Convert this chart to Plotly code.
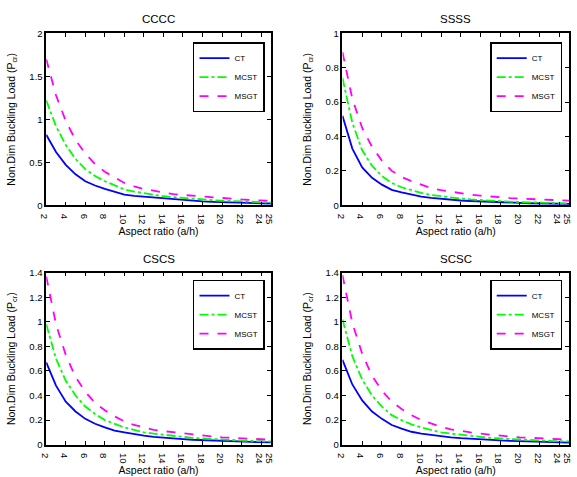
import plotly.graph_objects as go

x = list(range(2, 26))

titles = ["CCCC", "SSSS", "CSCS", "SCSC"]
series_names = ["CT", "MCST", "MSGT"]

cccc_ct = [0.82, 0.62, 0.47, 0.36, 0.28, 0.23, 0.19, 0.16, 0.125, 0.11, 0.10, 0.09, 0.08, 0.07, 0.06, 0.052, 0.046, 0.041, 0.036, 0.032, 0.029, 0.026, 0.023, 0.021]
cccc_mcst = [1.22, 0.92, 0.70, 0.54, 0.42, 0.34, 0.28, 0.23, 0.185, 0.16, 0.14, 0.12, 0.105, 0.095, 0.085, 0.075, 0.067, 0.06, 0.054, 0.049, 0.044, 0.04, 0.036, 0.033]
cccc_msgt = [1.70, 1.28, 0.98, 0.76, 0.60, 0.48, 0.39, 0.32, 0.26, 0.22, 0.19, 0.17, 0.15, 0.13, 0.12, 0.11, 0.10, 0.09, 0.082, 0.075, 0.068, 0.062, 0.057, 0.052]

ssss_ct = [0.52, 0.33, 0.22, 0.16, 0.12, 0.09, 0.075, 0.062, 0.05, 0.043, 0.037, 0.032, 0.028, 0.025, 0.022, 0.02, 0.018, 0.016, 0.014, 0.012, 0.011, 0.01, 0.009, 0.008]
ssss_mcst = [0.74, 0.48, 0.32, 0.23, 0.17, 0.13, 0.105, 0.087, 0.072, 0.06, 0.052, 0.045, 0.039, 0.034, 0.03, 0.027, 0.024, 0.021, 0.019, 0.017, 0.015, 0.014, 0.012, 0.011]
ssss_msgt = [0.89, 0.62, 0.45, 0.34, 0.26, 0.20, 0.165, 0.14, 0.12, 0.10, 0.088, 0.078, 0.068, 0.062, 0.056, 0.05, 0.046, 0.042, 0.039, 0.036, 0.033, 0.031, 0.029, 0.027]

cscs_ct = [0.67, 0.48, 0.35, 0.27, 0.21, 0.17, 0.14, 0.115, 0.10, 0.085, 0.073, 0.064, 0.056, 0.05, 0.045, 0.04, 0.036, 0.032, 0.029, 0.026, 0.024, 0.022, 0.02, 0.018]
cscs_mcst = [0.98, 0.70, 0.52, 0.40, 0.31, 0.25, 0.20, 0.17, 0.14, 0.12, 0.10, 0.09, 0.08, 0.07, 0.062, 0.055, 0.05, 0.045, 0.04, 0.036, 0.033, 0.03, 0.028, 0.026]
cscs_msgt = [1.37, 0.98, 0.73, 0.55, 0.43, 0.34, 0.28, 0.23, 0.19, 0.16, 0.14, 0.12, 0.11, 0.10, 0.09, 0.08, 0.072, 0.066, 0.06, 0.055, 0.05, 0.047, 0.044, 0.041]

scsc_ct = [0.69, 0.49, 0.36, 0.27, 0.21, 0.16, 0.13, 0.105, 0.09, 0.078, 0.068, 0.06, 0.053, 0.047, 0.042, 0.038, 0.034, 0.031, 0.028, 0.025, 0.023, 0.021, 0.019, 0.017]
scsc_mcst = [1.02, 0.72, 0.53, 0.40, 0.31, 0.24, 0.20, 0.165, 0.14, 0.12, 0.10, 0.09, 0.08, 0.07, 0.062, 0.055, 0.05, 0.045, 0.041, 0.037, 0.034, 0.031, 0.028, 0.026]
scsc_msgt = [1.38, 0.99, 0.74, 0.56, 0.44, 0.35, 0.29, 0.24, 0.20, 0.17, 0.145, 0.125, 0.11, 0.10, 0.09, 0.08, 0.073, 0.066, 0.06, 0.055, 0.05, 0.047, 0.044, 0.041]

data = [
    [cccc_ct, cccc_mcst, cccc_msgt],
    [ssss_ct, ssss_mcst, ssss_msgt],
    [cscs_ct, cscs_mcst, cscs_msgt],
    [scsc_ct, scsc_mcst, scsc_msgt],
]

x_ticks = [2, 4, 6, 8, 10, 12, 14, 16, 18, 20, 22, 24, 25]
y_ticks = [
    [0, 0.5, 1, 1.5, 2],
    [0, 0.2, 0.4, 0.6, 0.8, 1],
    [0, 0.2, 0.4, 0.6, 0.8, 1, 1.2, 1.4],
    [0, 0.2, 0.4, 0.6, 0.8, 1, 1.2, 1.4],
]
y_max = [2, 1, 1.4, 1.4]

W, H = 577, 477
# panel pixel boxes (left, right, top, bottom)
boxes = [(40, 269, 28, 204), (342, 573, 28, 204), (40, 269, 273, 449), (342, 573, 273, 449)]
legend_pos = [(263, 37), (566, 37), (263, 280), (566, 280)]

colors = ["#0000FF", "#00FF00", "#FF00FF"]
dashes = ["solid", "dashdot", "dash"]
FONT = "Liberation Sans, Arial, sans-serif"

fig = go.Figure()
layout = dict(
    width=W, height=H,
    margin=dict(l=0, r=0, t=0, b=0),
    paper_bgcolor="white", plot_bgcolor="white",
    font=dict(family=FONT, color="black"),
    annotations=[],
)

for i in range(4):
    sfx = "" if i == 0 else str(i + 1)
    leg = "legend" if i == 0 else f"legend{i + 1}"
    for j in range(3):
        fig.add_trace(go.Scatter(
            x=x, y=data[i][j], mode="lines", name=series_names[j],
            line=dict(color=colors[j], width=1.8, dash=dashes[j]),
            xaxis="x" + sfx, yaxis="y" + sfx, legend=leg,
        ))
    l, r, t, b = boxes[i]
    common = dict(showline=True, linecolor="black", linewidth=1.5, mirror="ticks",
                  ticks="inside", ticklen=4, tickcolor="black", tickwidth=1,
                  showgrid=False, zeroline=False,
                  tickfont=dict(size=9.5, family=FONT))
    layout["xaxis" + sfx] = dict(
        domain=[l / W, r / W], anchor="y" + sfx, range=[2, 25],
        tickvals=x_ticks, ticktext=[str(v) for v in x_ticks],
        title=dict(text="Aspect ratio (a/h)", font=dict(size=10.5), standoff=4),
        **common)
    layout["yaxis" + sfx] = dict(
        domain=[1 - b / H, 1 - t / H], anchor="x" + sfx, range=[0, y_max[i]],
        tickvals=y_ticks[i], ticktext=[f"{v:g}" for v in y_ticks[i]],
        title=dict(text="Non.Dim Buckling Load (P<sub>cr</sub>)", font=dict(size=10.5), standoff=12),
        **common)
    layout["annotations"].append(dict(
        text=titles[i], x=(l + r) / 2 / W, y=1 - (t - 6) / H, xref="paper", yref="paper",
        xanchor="center", yanchor="bottom", showarrow=False, font=dict(size=11.5)))
    lx, ly = legend_pos[i]
    layout[leg] = dict(
        x=lx / W, y=1 - ly / H, xanchor="right", yanchor="top",
        bgcolor="white", bordercolor="black", borderwidth=1.5,
        font=dict(size=8), tracegroupgap=0, itemwidth=30,
    )

fig.update_layout(**layout)
fig.write_html("out.html")
